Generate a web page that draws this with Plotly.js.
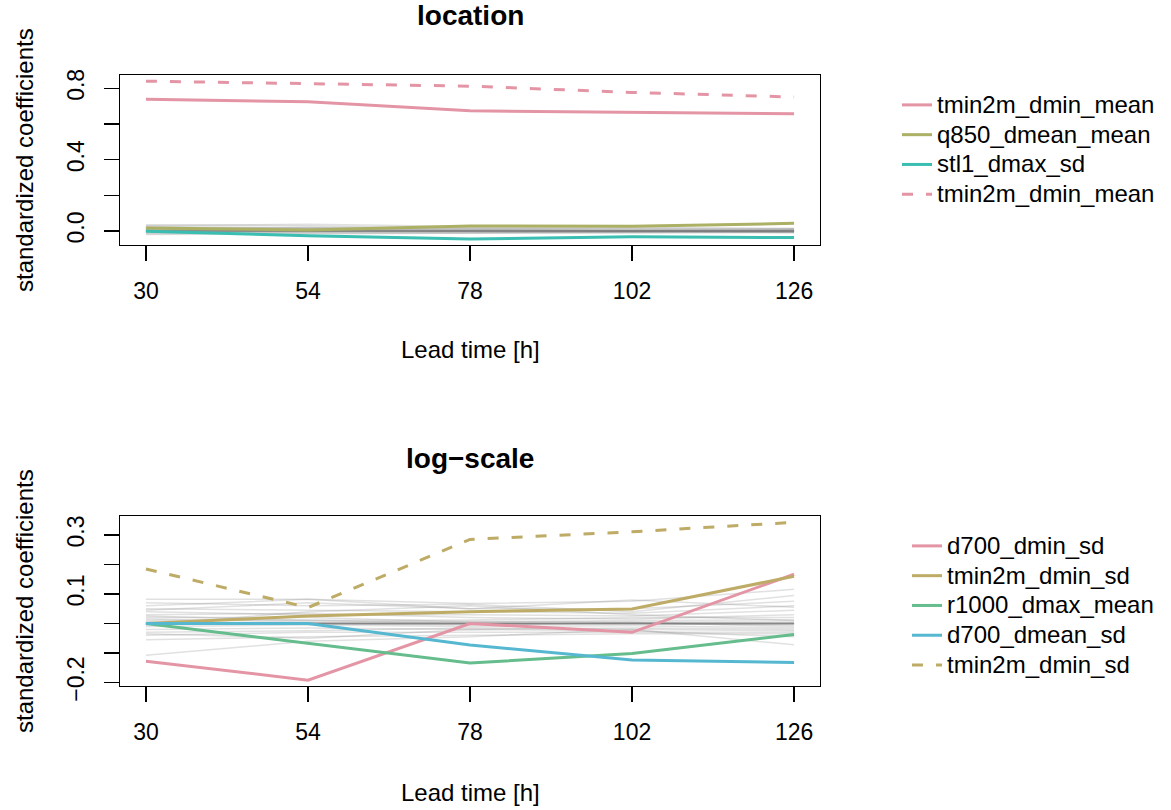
<!DOCTYPE html>
<html>
<head>
<meta charset="utf-8">
<script src="https://cdn.plot.ly/plotly-3.0.1.min.js"></script>
<style>html,body{margin:0;padding:0;background:#fff;}#chart{width:1171px;height:810px;}</style>
</head>
<body>
<div id="chart"></div>
<script>
// Lead times
var leadTimes = [30, 54, 78, 102, 126];

// ---- location panel: highlighted series ----
var locNames = ["tmin2m_dmin_mean", "q850_dmean_mean", "stl1_dmax_sd", "tmin2m_dmin_mean"];
var loc_tmin2m_dmin_mean = [0.739, 0.724, 0.674, 0.667, 0.657];
var loc_q850_dmean_mean = [0.017, 0.006, 0.028, 0.026, 0.043];
var loc_stl1_dmax_sd = [-0.002, -0.026, -0.045, -0.032, -0.037];
var loc_tmin2m_dmin_mean_ref = [0.840, 0.824, 0.812, 0.777, 0.751];

// location panel: other (grey) coefficients
var locGrey = [
  [0.035, 0.030, 0.015, 0.010, 0.008],
  [0.030, 0.038, 0.025, 0.020, 0.015],
  [0.025, 0.020, 0.010, 0.005, 0.003],
  [0.020, 0.015, 0.008, 0.004, 0.010],
  [0.015, 0.010, 0.005, 0.000, -0.005],
  [0.010, 0.012, 0.003, 0.002, 0.000],
  [0.005, 0.005, 0.000, 0.000, 0.000],
  [-0.005, -0.003, -0.002, -0.004, -0.006],
  [-0.010, -0.008, -0.005, -0.006, -0.008],
  [-0.015, -0.010, -0.012, -0.010, -0.010],
  [-0.020, -0.015, -0.010, -0.008, -0.005],
  [0.012, 0.020, 0.018, 0.015, 0.012],
  [0.008, 0.000, -0.006, -0.004, 0.005],
  [0.000, 0.000, 0.000, 0.000, 0.000],
  [0.000, 0.000, 0.000, 0.000, 0.000],
  [0.000, 0.000, 0.000, 0.000, 0.000],
  [0.000, 0.000, 0.000, 0.000, 0.000],
  [0.000, 0.000, 0.000, 0.000, 0.000],
  [0.000, 0.000, 0.000, 0.000, 0.000],
  [0.000, 0.000, 0.000, 0.000, 0.000]
];

// ---- log-scale panel: highlighted series ----
var scaleNames = ["d700_dmin_sd", "tmin2m_dmin_sd", "r1000_dmax_mean", "d700_dmean_sd", "tmin2m_dmin_sd"];
var sc_d700_dmin_sd = [-0.128, -0.192, 0.000, -0.030, 0.167];
var sc_tmin2m_dmin_sd = [0.000, 0.025, 0.040, 0.049, 0.160];
var sc_r1000_dmax_mean = [0.000, -0.067, -0.134, -0.102, -0.037];
var sc_d700_dmean_sd = [0.000, 0.000, -0.073, -0.124, -0.132];
var sc_tmin2m_dmin_sd_ref = [0.185, 0.054, 0.285, 0.311, 0.343];

// log-scale panel: other (grey) coefficients
var scaleGrey = [
  [0.082, 0.082, 0.068, 0.075, 0.116],
  [0.070, 0.060, 0.065, 0.040, 0.095],
  [0.060, 0.082, 0.050, 0.050, 0.075],
  [0.050, 0.045, 0.040, 0.035, 0.060],
  [0.040, 0.030, 0.030, 0.025, 0.045],
  [0.030, 0.035, 0.020, 0.015, 0.030],
  [0.025, 0.010, 0.012, 0.020, 0.020],
  [0.020, 0.020, 0.005, 0.010, 0.012],
  [0.015, 0.005, 0.008, 0.005, 0.005],
  [0.010, 0.012, 0.000, 0.000, -0.005],
  [0.005, 0.000, -0.005, 0.003, -0.010],
  [-0.010, -0.005, -0.010, -0.008, -0.015],
  [-0.020, -0.015, -0.020, -0.015, -0.020],
  [-0.030, -0.025, -0.015, -0.020, -0.025],
  [-0.040, -0.030, -0.030, -0.030, -0.030],
  [-0.055, -0.045, -0.040, -0.035, -0.035],
  [-0.108, -0.060, -0.045, -0.020, -0.072],
  [-0.035, -0.050, -0.020, -0.025, -0.045],
  [0.045, 0.070, 0.050, 0.080, 0.055],
  [-0.005, 0.040, 0.060, 0.030, 0.010],
  [0.000, 0.000, 0.000, 0.000, 0.000],
  [0.000, 0.000, 0.000, 0.000, 0.000],
  [0.000, 0.000, 0.000, 0.000, 0.000],
  [0.000, 0.000, 0.000, 0.000, 0.000],
  [0.000, 0.000, 0.000, 0.000, 0.000],
  [0.000, 0.000, 0.000, 0.000, 0.000],
  [0.000, 0.000, 0.000, 0.000, 0.000],
  [0.000, 0.000, 0.000, 0.000, 0.000]
];

// tick labels
var xTickVals = leadTimes;
var xTickText = ["30", "54", "78", "102", "126"];
var locTickVals = [0, 0.2, 0.4, 0.6, 0.8];
var locTickText = ["0.0", "", "0.4", "", "0.8"];
var scTickVals = [-0.2, -0.1, 0, 0.1, 0.2, 0.3];
var scTickText = ["\u22120.2", "", "", "0.1", "", "0.3"];

var FONT = "Liberation Sans, Arial, Helvetica, sans-serif";
var GREY = "rgba(120,120,120,0.22)";
var traces = [];

function legName(s) { return '<span style="font-size:24px">' + s + '</span>'; }

locGrey.forEach(function (g) {
  traces.push({x: leadTimes, y: g, type: "scatter", mode: "lines", xaxis: "x", yaxis: "y",
    line: {color: GREY, width: 1.5}, showlegend: false, hoverinfo: "skip"});
});
scaleGrey.forEach(function (g) {
  traces.push({x: leadTimes, y: g, type: "scatter", mode: "lines", xaxis: "x2", yaxis: "y2",
    line: {color: GREY, width: 1.5}, showlegend: false, hoverinfo: "skip"});
});

var DASH = "11px,13px";
var locSeries = [loc_tmin2m_dmin_mean, loc_q850_dmean_mean, loc_stl1_dmax_sd, loc_tmin2m_dmin_mean_ref];
var locColors = ["#E495A5", "#ABB065", "#39BEB1", "#E495A5"];
var locDash = ["solid", "solid", "solid", DASH];
locSeries.forEach(function (s, i) {
  traces.push({x: leadTimes, y: s, type: "scatter", mode: "lines", xaxis: "x", yaxis: "y",
    name: legName(locNames[i]), legend: "legend", line: {color: locColors[i], width: 3, dash: locDash[i]}});
});

var scSeries = [sc_d700_dmin_sd, sc_tmin2m_dmin_sd, sc_r1000_dmax_mean, sc_d700_dmean_sd, sc_tmin2m_dmin_sd_ref];
var scColors = ["#E495A5", "#BDAB66", "#65BC8C", "#55B8D0", "#BDAB66"];
var scDash = ["solid", "solid", "solid", "solid", DASH];
scSeries.forEach(function (s, i) {
  traces.push({x: leadTimes, y: s, type: "scatter", mode: "lines", xaxis: "x2", yaxis: "y2",
    name: legName(scaleNames[i]), legend: "legend2", line: {color: scColors[i], width: 3, dash: scDash[i]}});
});

function xax(anchor) {
  return {anchor: anchor, range: [26.16, 129.84], tickmode: "array", tickvals: xTickVals, ticktext: xTickText,
    ticks: "outside", ticklen: 15, tickwidth: 1.3, tickcolor: "#000", showline: true, mirror: true,
    linecolor: "#000", linewidth: 1.3, showgrid: false, zeroline: false, ticklabelstandoff: 10,
    tickfont: {family: FONT, size: 23, color: "#000"}};
}
function yax(anchor, dom, rng, tv, tt) {
  return {anchor: anchor, domain: dom, range: rng, tickmode: "array", tickvals: tv, ticktext: tt,
    tickangle: -90, ticks: "outside", ticklen: 15, tickwidth: 1.3, tickcolor: "#000", showline: true,
    mirror: true, linecolor: "#000", linewidth: 1.3, showgrid: false, zeroline: false, ticklabelstandoff: 11,
    tickfont: {family: FONT, size: 23, color: "#000"}};
}

function py(p) { return 1 - p / 810; }
function px(p) { return (p - 120) / 700; }

var layout = {
  width: 1171, height: 810,
  margin: {l: 120, r: 351, t: 0, b: 0},
  paper_bgcolor: "#fff", plot_bgcolor: "#fff",
  font: {family: FONT, color: "#000"},
  xaxis: xax("y"),
  yaxis: yax("x", [py(245), py(75)], [-0.0785, 0.8745], locTickVals, locTickText),
  xaxis2: xax("y2"),
  yaxis2: yax("x2", [py(686), py(516)], [-0.2119, 0.3644], scTickVals, scTickText),
  legend: {x: px(897), xanchor: "left", y: py(85), yanchor: "top", bgcolor: "rgba(0,0,0,0)",
    font: {family: FONT, size: 20.6, color: "#000"}, tracegroupgap: 0},
  legend2: {x: px(907), xanchor: "left", y: py(526), yanchor: "top", bgcolor: "rgba(0,0,0,0)",
    font: {family: FONT, size: 20.6, color: "#000"}, tracegroupgap: 0},
  annotations: [
    {text: "<b>location</b>", xref: "paper", yref: "paper", x: 0.5, y: py(16), xanchor: "center", yanchor: "middle",
      showarrow: false, font: {family: FONT, size: 28, color: "#000"}},
    {text: "<b>log\u2212scale</b>", xref: "paper", yref: "paper", x: 0.5, y: py(458), xanchor: "center", yanchor: "middle",
      showarrow: false, font: {family: FONT, size: 28, color: "#000"}},
    {text: "Lead time [h]", xref: "paper", yref: "paper", x: 0.5, y: py(350), xanchor: "center", yanchor: "middle",
      showarrow: false, font: {family: FONT, size: 24, color: "#000"}},
    {text: "Lead time [h]", xref: "paper", yref: "paper", x: 0.5, y: py(792), xanchor: "center", yanchor: "middle",
      showarrow: false, font: {family: FONT, size: 24, color: "#000"}},
    {text: "standardized coefficients", xref: "paper", yref: "paper", x: px(24), y: py(160), xanchor: "center", yanchor: "middle",
      textangle: -90, showarrow: false, font: {family: FONT, size: 24, color: "#000"}},
    {text: "standardized coefficients", xref: "paper", yref: "paper", x: px(24), y: py(601), xanchor: "center", yanchor: "middle",
      textangle: -90, showarrow: false, font: {family: FONT, size: 24, color: "#000"}}
  ]
};

Plotly.newPlot("chart", traces, layout, {displayModeBar: false, staticPlot: true});
</script>
</body>
</html>
